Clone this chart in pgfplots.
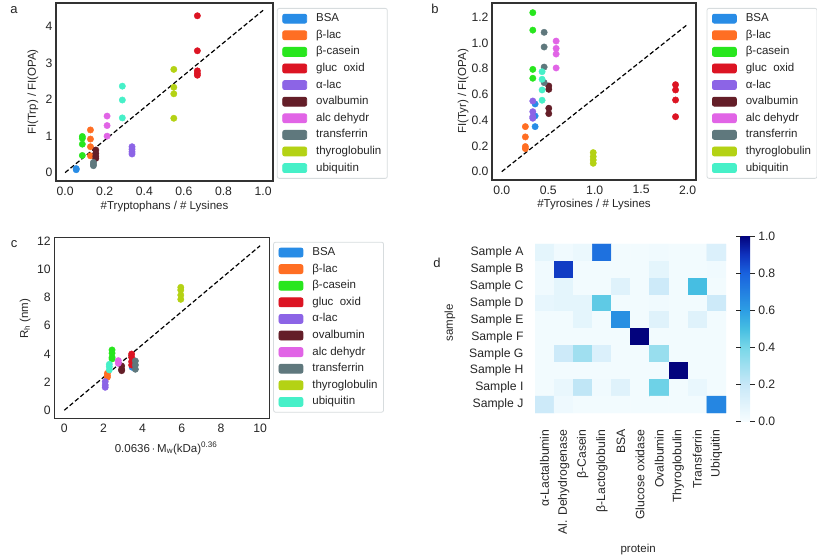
\documentclass[border=0pt]{standalone}
\usepackage{fontspec}
\setmainfont{Liberation Sans}
\usepackage{pgfplots}
\pgfplotsset{compat=1.18}
\newcommand{\fs}{\fontsize{11.5}{13.8}\selectfont}
\newcommand{\ft}{\fontsize{12.2}{14}\selectfont}
\definecolor{cbsa}{RGB}{40,140,230}
\definecolor{cblac}{RGB}{255,110,35}
\definecolor{ccas}{RGB}{40,230,30}
\definecolor{cgluc}{RGB}{220,20,35}
\definecolor{calac}{RGB}{140,100,230}
\definecolor{coval}{RGB}{100,30,40}
\definecolor{calc}{RGB}{225,100,230}
\definecolor{ctrans}{RGB}{95,120,125}
\definecolor{cthyr}{RGB}{180,210,20}
\definecolor{cubi}{RGB}{70,240,200}
\definecolor{framecol}{RGB}{50,50,50}
\definecolor{textcol}{RGB}{38,38,38}
\definecolor{legcol}{RGB}{215,220,222}
\pgfplotsset{
  sc/.style={scale only axis,
    axis line style={draw=framecol, line width=1.1pt},
    major tick length=0pt,
    tick label style={font=\ft, text=textcol},
    label style={font=\fs, text=textcol},
    /pgf/number format/assume math mode=true,
    legend cell align=left,
    legend image code/.code={\fill[##1] (0pt,-4.5pt) rectangle (24pt,4.5pt);},
    legend style={at={(1.018,0.972)}, anchor=north west, draw=legcol, line width=0.8pt,
      rounded corners=2pt, fill=white, font=\fs, text=textcol,
      inner xsep=5pt, inner ysep=3.8pt, row sep=3.6pt,
      nodes={inner sep=1pt, text height=8.5pt, text depth=2.5pt},
      /tikz/every odd column/.append style={column sep=8pt}},
  },
  pt/.style={only marks, mark=*, mark size=3.2pt, color=#1},
  dl/.style={forget plot, black, line width=1.2pt, dash pattern=on 4.5pt off 2.5pt},
}
\begin{document}
\begin{tikzpicture}
\path[use as bounding box] (0,0) rectangle (817pt,-559pt);
\node[font=\fontsize{13}{15}\selectfont, text=textcol] at (14pt,-10pt) {a};
\node[font=\fontsize{13}{15}\selectfont, text=textcol] at (435pt,-9pt) {b};
\node[font=\fontsize{13}{15}\selectfont, text=textcol] at (14pt,-244pt) {c};
\node[font=\fontsize{13}{15}\selectfont, text=textcol] at (437pt,-263pt) {d};

% ---------- panel a
\begin{axis}[sc, at={(56pt,-181pt)}, anchor=south west, width=217pt, height=178pt,
  xmin=-0.046, xmax=1.05, ymin=-0.23, ymax=4.65,
  xtick={0,0.2,0.4,0.6,0.8,1}, ytick={0,1,2,3,4},
  xticklabel style={/pgf/number format/fixed, /pgf/number format/fixed zerofill, /pgf/number format/precision=1, yshift=-2pt},
  xlabel={\#Tryptophans / \# Lysines}, ylabel={FI(Trp) / FI(OPA)},
  xlabel style={at={(axis description cs:0.5,-0.146)}, anchor=center},
  ylabel style={at={(axis description cs:-0.106,0.5)}, anchor=center},
]
\addplot[pt=cbsa] coordinates {(0.056,0.11) (0.056,0.08)};
\addplot[pt=cblac] coordinates {(0.128,1.17) (0.128,0.92) (0.128,0.71) (0.128,0.46)};
\addplot[pt=ccas] coordinates {(0.087,0.99) (0.087,0.94) (0.087,0.78) (0.087,0.47)};
\addplot[pt=cgluc] coordinates {(0.668,4.30) (0.668,3.34) (0.668,2.79) (0.668,2.72) (0.668,2.67)};
\addplot[pt=calac] coordinates {(0.338,0.71) (0.338,0.64) (0.338,0.57) (0.338,0.51)};
\addplot[pt=coval] coordinates {(0.155,0.62) (0.155,0.53) (0.155,0.45) (0.155,0.39)};
\addplot[pt=calc] coordinates {(0.212,1.55) (0.212,1.29) (0.212,1.00)};
\addplot[pt=ctrans] coordinates {(0.143,0.28) (0.143,0.23) (0.143,0.19)};
\addplot[pt=cthyr] coordinates {(0.549,2.83) (0.549,2.34) (0.549,2.16) (0.549,1.49)};
\addplot[pt=cubi] coordinates {(0.289,2.37) (0.289,1.99) (0.289,1.50)};
\addplot[dl] coordinates {(0,0) (1,4.45)};
\legend{BSA, β-lac, β-casein, gluc~~oxid, α-lac, ovalbumin, alc dehydr, transferrin, thyroglobulin, ubiquitin}
\end{axis}

% ---------- panel b
\begin{axis}[sc, at={(492pt,-180pt)}, anchor=south west, width=204pt, height=177pt,
  xmin=-0.105, xmax=2.09, ymin=-0.065, ymax=1.311,
  xtick={0,0.5,1,1.5,2}, ytick={0,0.2,0.4,0.6,0.8,1,1.2},
  xticklabel style={/pgf/number format/fixed, /pgf/number format/fixed zerofill, /pgf/number format/precision=1, yshift=-2pt},
  yticklabel style={/pgf/number format/fixed, /pgf/number format/fixed zerofill, /pgf/number format/precision=1},
  xlabel={\#Tyrosines / \# Lysines}, ylabel={FI(Tyr) / FI(OPA)},
  xlabel style={at={(axis description cs:0.5,-0.136)}, anchor=center},
  ylabel style={at={(axis description cs:-0.141,0.5)}, anchor=center},
  legend style={at={(1.052,0.972)}},
]
\addplot[pt=cbsa] coordinates {(0.359,0.526) (0.359,0.433) (0.359,0.35)};
\addplot[pt=cblac] coordinates {(0.254,0.35) (0.254,0.27) (0.254,0.195) (0.254,0.179)};
\addplot[pt=ccas] coordinates {(0.334,1.236) (0.334,1.10) (0.334,0.795) (0.334,0.726)};
\addplot[pt=cgluc] coordinates {(1.87,0.676) (1.87,0.635) (1.87,0.557) (1.87,0.427)};
\addplot[pt=calac] coordinates {(0.334,0.549) (0.334,0.466) (0.334,0.427) (0.334,0.415)};
\addplot[pt=coval] coordinates {(0.506,0.666) (0.506,0.64) (0.506,0.493) (0.506,0.451)};
\addplot[pt=calc] coordinates {(0.585,1.015) (0.585,0.958) (0.585,0.914) (0.585,0.806)};
\addplot[pt=ctrans] coordinates {(0.456,1.083) (0.456,0.969) (0.456,0.813) (0.456,0.692)};
\addplot[pt=cthyr] coordinates {(0.984,0.148) (0.984,0.117) (0.984,0.091) (0.984,0.065)};
\addplot[pt=cubi] coordinates {(0.434,0.777) (0.434,0.718) (0.434,0.635) (0.434,0.555)};
\addplot[dl] coordinates {(0,0) (2,1.145)};
\legend{BSA, β-lac, β-casein, gluc~~oxid, α-lac, ovalbumin, alc dehydr, transferrin, thyroglobulin, ubiquitin}
\end{axis}

% ---------- panel c
\begin{axis}[sc, at={(54.3pt,-418.3pt)}, anchor=south west, width=215pt, height=181pt,
  xmin=-0.51, xmax=10.47, ymin=-0.57, ymax=12.27,
  xtick={0,2,4,6,8,10}, ytick={0,2,4,6,8,10,12},
  xticklabel style={yshift=-2pt},
  xlabel={0.0636\,$\cdot$\,M\textsubscript{w}(kDa)\textsuperscript{0.36}}, ylabel={R\textsubscript{h} (nm)},
  xlabel style={at={(axis description cs:0.52,-0.166)}, anchor=center},
  ylabel style={at={(axis description cs:-0.136,0.55)}, anchor=center},
  legend style={at={(1.018,0.975)}},
]
\addplot[pt=cbsa] coordinates {(3.47,3.15) (3.47,3.05)};
\addplot[pt=cblac] coordinates {(2.2,2.62) (2.2,2.45) (2.2,2.34)};
\addplot[pt=ccas] coordinates {(2.44,4.28) (2.44,4.05) (2.44,3.76) (2.44,3.64)};
\addplot[pt=cgluc] coordinates {(3.44,3.99) (3.44,3.76) (3.44,3.45) (3.44,3.21)};
\addplot[pt=calac] coordinates {(2.09,2.03) (2.09,1.79) (2.09,1.63)};
\addplot[pt=coval] coordinates {(2.93,3.14) (2.93,2.91) (2.93,2.81)};
\addplot[pt=calc] coordinates {(2.76,3.52) (2.76,3.33)};
\addplot[pt=ctrans] coordinates {(3.63,3.5) (3.63,3.21) (3.63,2.91)};
\addplot[pt=cthyr] coordinates {(5.95,8.72) (5.95,8.53) (5.95,8.17) (5.95,7.87)};
\addplot[pt=cubi] coordinates {(2.30,3.26) (2.30,3.09) (2.30,2.86)};
\addplot[dl] coordinates {(0,0) (10,11.67)};
\legend{BSA, β-lac, β-casein, gluc~~oxid, α-lac, ovalbumin, alc dehydr, transferrin, thyroglobulin, ubiquitin}
\end{axis}

% ---------- panel d
\begin{axis}[scale only axis, at={(535pt,-413pt)}, anchor=south west, width=191pt, height=169pt,
  xmin=-0.5, xmax=9.5, ymin=-0.5, ymax=9.5, y dir=reverse,
  axis line style={draw=none}, major tick length=0pt,
  tick label style={font=\ft, text=textcol}, label style={font=\fs, text=textcol},
  xtick={0,...,9}, ytick={0,...,9},
  xticklabels={α-Lactalbumin, Al. Dehydrogenase, β-Casein, β-Lactoglobulin, BSA, Glucose oxidase, Ovalbumin, Thyroglobulin, Transferrin, Ubiquitin},
  yticklabels={Sample A, Sample B, Sample C, Sample D, Sample E, Sample F, Sample G, Sample H, Sample I, Sample J},
  xticklabel style={rotate=90, anchor=east, xshift=-13pt},
  yticklabel style={xshift=-8pt},
  xlabel={protein}, ylabel={sample},
  xlabel style={at={(axis description cs:0.54,-0.81)}, anchor=center},
  ylabel style={at={(axis description cs:-0.445,0.532)}, anchor=center, rotate=0},
  colormap={hm}{rgb255(0cm)=(247,253,255); rgb255(2cm)=(200,232,248); rgb255(4cm)=(120,215,232); rgb255(5cm)=(70,190,226); rgb255(6cm)=(45,158,228); rgb255(8cm)=(25,98,222); rgb255(9cm)=(15,50,190); rgb255(10cm)=(3,3,125)},
  point meta min=0, point meta max=1,
  colorbar,
  colorbar style={at={(parent axis.north east)}, anchor=north west, xshift=6pt, yshift=8pt,
    scale only axis, width=9.7pt, height=185.7pt, axis line style={draw=none},
    ytick={0,0.2,0.4,0.6,0.8,1}, tick align=outside, major tick length=4.5pt,
    tick style={draw=textcol, line width=0.9pt},
    yticklabel style={font=\ft, text=textcol, /pgf/number format/fixed, /pgf/number format/fixed zerofill, /pgf/number format/precision=1},
    /pgf/number format/assume math mode=true},
]
\addplot[matrix plot*, mesh/cols=10, point meta=explicit] table[meta=c] {
x y c
0 0 0.08
1 0 0.03
2 0 0.05
3 0 0.75
4 0 0.02
5 0 0.02
6 0 0.03
7 0 0.02
8 0 0.02
9 0 0.12
0 1 0.03
1 1 0.88
2 1 0.02
3 1 0.02
4 1 0.02
5 1 0.02
6 1 0.08
7 1 0.02
8 1 0.02
9 1 0.03
0 2 0.03
1 2 0.08
2 2 0.02
3 2 0.02
4 2 0.10
5 2 0.02
6 2 0.18
7 2 0.02
8 2 0.50
9 2 0.02
0 3 0.07
1 3 0.08
2 3 0.08
3 3 0.45
4 3 0.02
5 3 0.02
6 3 0.03
7 3 0.02
8 3 0.02
9 3 0.18
0 4 0.02
1 4 0.02
2 4 0.08
3 4 0.02
4 4 0.65
5 4 0.02
6 4 0.10
7 4 0.02
8 4 0.10
9 4 0.02
0 5 0.02
1 5 0.02
2 5 0.02
3 5 0.02
4 5 0.02
5 5 1.00
6 5 0.02
7 5 0.02
8 5 0.02
9 5 0.02
0 6 0.02
1 6 0.18
2 6 0.30
3 6 0.12
4 6 0.02
5 6 0.02
6 6 0.32
7 6 0.02
8 6 0.02
9 6 0.02
0 7 0.02
1 7 0.02
2 7 0.02
3 7 0.02
4 7 0.02
5 7 0.02
6 7 0.02
7 7 1.00
8 7 0.02
9 7 0.02
0 8 0.02
1 8 0.06
2 8 0.22
3 8 0.03
4 8 0.10
5 8 0.02
6 8 0.42
7 8 0.02
8 8 0.06
9 8 0.02
0 9 0.18
1 9 0.04
2 9 0.02
3 9 0.02
4 9 0.02
5 9 0.02
6 9 0.02
7 9 0.02
8 9 0.02
9 9 0.68
};
\end{axis}
\end{tikzpicture}
\end{document}
